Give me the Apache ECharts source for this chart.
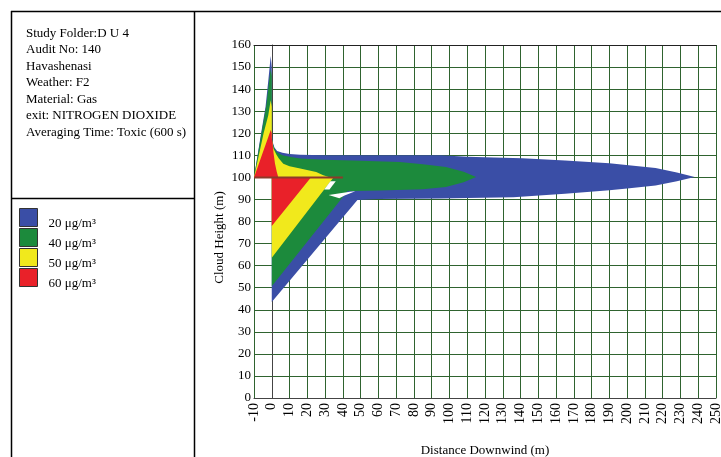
<!DOCTYPE html>
<html>
<head>
<meta charset="utf-8">
<script src="https://cdn.jsdelivr.net/npm/echarts@6/dist/echarts.min.js"></script>
<style>
html,body{margin:0;padding:0;background:#fff;}
#chart{width:721px;height:457px;}
</style>
</head>
<body>
<div id="chart"></div>
<script>
// ---------- data ----------
const infoLines = [
  'Study Folder:D U 4',
  'Audit No: 140',
  'Havashenasi',
  'Weather: F2',
  'Material: Gas',
  'exit: NITROGEN DIOXIDE',
  'Averaging Time: Toxic (600 s)'
];
const levelNames = ['20 μg/m³', '40 μg/m³', '50 μg/m³', '60 μg/m³'];
const xName = 'Distance Downwind (m)';
const yName = 'Cloud Height (m)';
const xMin = -10, xMax = 250, xStep = 10;
const yMin = 0, yMax = 160, yStep = 10;

// contour outlines [distance m, height m]
const blueZone = [[
  [-10,100],[-6,120],[-3.5,132],[-1.8,145],[-0.6,155],[0,150],[0,120],[0.5,116],[1.5,113.5],
  [3,112],[6,111.2],[10,110.6],[16,110.2],[30,110],[60,110],[95,110],[110,109.4],[125,109],
  [141,108.7],[165,107.6],[190,106.4],[205,105.2],[216,104.2],[228,102.2],[238,100.2],
  [228,98.2],[216,96.3],[200,95],[190,94.2],[165,92.6],[136,91],[110,90.6],[95,90.4],
  [60,90.2],[48.2,89.8],[0,43.5],[0,100]
]];
const greenZone = [[
  [-10,100],[-5.8,120],[-3,133],[-1.6,143],[-0.6,149],[0,146],[0,119],[0.5,115.5],[1.5,113],
  [3,111.3],[6,110],[10,109.3],[16,108.6],[30,108],[50,107.5],[72,107],[85,106],[98,104.7],
  [108,102.6],[115,100.2],[108,97.8],[98,95.6],[85,94.6],[61,94],[46,93.8],[42.7,93.8],
  [0,50.7],[0,100]
]];
const yellowZone = [[
  [-10,100],[-4.6,120],[-2,128],[-0.6,135],[0,132],[0,118],[0.3,116],[1,113],[2.5,110.5],
  [4,108.5],[6.5,106.2],[10,105],[16,104],[25,102.4],[29,101],[33,100],[34.7,100],
  [0,63.6],[0,100]
]];
const redZone = [[
  [-10,100],[-5.6,110],[-2.5,117],[-0.6,121.5],[0,120],[0,118],[0.5,115.4],[1,111],
  [1.8,106.3],[2.8,102.5],[3.7,100],[22,100],[0,78],[0,100]
]];
const gapZones = [
  [[29.5,94.5],[33,98.3],[36,98.3],[32.5,94.5]],
  [[32,92],[44,93.5],[47,93.7],[41,91.8],[38,90.5]]
];
const sourceLine = [[-10,100],[40,100]];

// ---------- styles ----------
const levelColors = ['#3a4ea6', '#1c8a3c', '#f1e91c', '#e92129'];
const FONT = '"Liberation Serif", "DejaVu Serif", serif';

function polyRenderer(polys) {
  return function (params, api) {
    if (params.dataIndex !== 0) return;
    return {
      type: 'group',
      children: polys.map(p => ({
        type: 'polygon',
        shape: { points: p.map(pt => api.coord(pt)) },
        style: { fill: api.visual('color'), stroke: null }
      }))
    };
  };
}

const zones = [blueZone, greenZone, yellowZone, redZone];
const series = zones.map((z, i) => ({
  name: levelNames[i],
  type: 'custom',
  coordinateSystem: 'cartesian2d',
  clip: true,
  itemStyle: { color: levelColors[i] },
  renderItem: polyRenderer(z),
  data: z.flat(),
  z: 2 + i
}));
series.push({
  name: 'gap',
  type: 'custom',
  coordinateSystem: 'cartesian2d',
  itemStyle: { color: '#ffffff' },
  renderItem: polyRenderer(gapZones),
  data: gapZones.flat(),
  z: 7
});
series.push({
  name: 'source',
  type: 'line',
  data: sourceLine,
  symbol: 'none',
  lineStyle: { color: '#8e3a2a', width: 2 },
  z: 8
});

const graphics = [
  { type: 'line', shape: { x1: 11, y1: 11.5, x2: 721, y2: 11.5 }, style: { stroke: '#000', lineWidth: 1.5 } },
  { type: 'line', shape: { x1: 11.5, y1: 11, x2: 11.5, y2: 457 }, style: { stroke: '#000', lineWidth: 1.5 } },
  { type: 'line', shape: { x1: 194.5, y1: 11, x2: 194.5, y2: 457 }, style: { stroke: '#000', lineWidth: 1.5 } },
  { type: 'line', shape: { x1: 11, y1: 198.5, x2: 194.5, y2: 198.5 }, style: { stroke: '#000', lineWidth: 1.5 } }
];
infoLines.forEach((t, i) => {
  graphics.push({
    type: 'text', left: 26, top: 27 + i * 16.5,
    style: { text: t, font: '13px ' + FONT, fill: '#000' }
  });
});

const chart = echarts.init(document.getElementById('chart'), null, { renderer: 'canvas' });
chart.setOption({
  animation: false,
  backgroundColor: '#ffffff',
  grid: { left: 254, right: 5, top: 45, bottom: 59, containLabel: false, outerBoundsMode: 'none' },
  legend: {
    data: levelNames,
    orient: 'vertical',
    left: 19, top: 205, padding: 0,
    itemWidth: 18, itemHeight: 18, itemGap: -5,
    icon: 'rect',
    itemStyle: { borderColor: '#333', borderWidth: 1 },
    formatter: function (name) { return '{v|' + name + '}'; },
    textStyle: {
      fontFamily: FONT, fontSize: 13, color: '#000',
      rich: { v: { fontFamily: FONT, fontSize: 13, color: '#000', lineHeight: 6, padding: [12, 0, 0, 6] } }
    },
    selectedMode: false
  },
  xAxis: [{
    type: 'value', min: xMin, max: xMax, interval: xStep,
    name: xName, nameLocation: 'middle', nameGap: 46, nameMoveOverlap: false,
    nameTextStyle: { fontFamily: FONT, fontSize: 13, color: '#000' },
    axisLine: { show: true, lineStyle: { color: '#444', width: 1 } },
    axisTick: { show: false },
    axisLabel: { rotate: 90, margin: 5, fontFamily: FONT, fontSize: 14, color: '#000' },
    splitLine: { show: true, lineStyle: { color: '#2f632f', width: 1 } }
  }, {
    type: 'value', min: xMin, max: xMax, position: 'top',
    axisLine: { show: true, onZero: false, lineStyle: { color: '#222', width: 1 } },
    axisTick: { show: false }, axisLabel: { show: false }, splitLine: { show: false }
  }],
  yAxis: {
    type: 'value', min: yMin, max: yMax, interval: yStep,
    name: yName, nameLocation: 'middle', nameGap: 28, nameMoveOverlap: false,
    nameTextStyle: { fontFamily: FONT, fontSize: 13, color: '#000', padding: [0, 32, 0, 0] },
    axisLine: { show: true, lineStyle: { color: '#444', width: 1 } },
    axisTick: { show: false },
    axisLabel: { margin: 3, fontFamily: FONT, fontSize: 13, color: '#000' },
    splitLine: { show: true, lineStyle: { color: '#2f632f', width: 1 } }
  },
  graphic: graphics,
  series: series
});
</script>
</body>
</html>
